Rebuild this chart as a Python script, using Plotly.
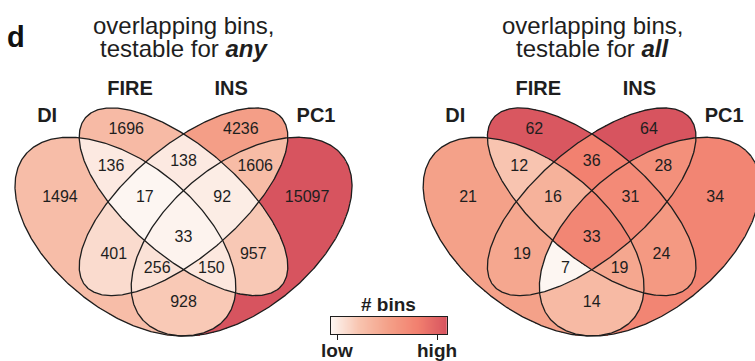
import numpy as np
import plotly.graph_objects as go

# ---------------- data ----------------
SETS = ["DI", "FIRE", "INS", "PC1"]
REGIONS = ["DI", "FIRE", "INS", "PC1",
           "DI&FIRE", "FIRE&INS", "INS&PC1", "DI&INS", "FIRE&PC1", "DI&PC1",
           "DI&FIRE&INS", "FIRE&INS&PC1", "DI&INS&PC1", "DI&FIRE&PC1",
           "DI&FIRE&INS&PC1"]
BINS_ANY = [1494, 1696, 4236, 15097, 136, 138, 1606, 401, 957, 928, 17, 92, 256, 150, 33]
BINS_ALL = [21, 62, 64, 34, 12, 36, 28, 19, 24, 14, 16, 31, 7, 19, 33]
PANEL_KEYS = ["any", "all"]
COLORBAR_TITLE = "# bins"
COLORBAR_TICKS = ["low", "high"]

# ---------------- geometry / style ----------------
ELLIPSES = {  # cx, cy, a, b, angle(deg)
    "DI": (0.35, 0.47, 0.35, 0.20, -45),
    "FIRE": (0.50, 0.57, 0.35, 0.15, -45),
    "INS": (0.50, 0.57, 0.35, 0.15, 45),
    "PC1": (0.65, 0.47, 0.35, 0.20, 45),
}
LABEL_POS = {
    "DI": (0.181, 0.581), "FIRE": (0.352, 0.776), "INS": (0.648, 0.776), "PC1": (0.819, 0.581),
    "DI&FIRE": (0.313, 0.669), "FIRE&INS": (0.5, 0.684), "INS&PC1": (0.685, 0.669),
    "DI&INS": (0.32, 0.417), "FIRE&PC1": (0.68, 0.417), "DI&PC1": (0.5, 0.280),
    "DI&FIRE&INS": (0.40, 0.581), "FIRE&INS&PC1": (0.60, 0.581),
    "DI&INS&PC1": (0.432, 0.377), "DI&FIRE&PC1": (0.572, 0.377),
    "DI&FIRE&INS&PC1": (0.5, 0.466),
}
SET_LABEL_POS = {"DI": (0.148, 0.813), "FIRE": (0.362, 0.891),
                 "INS": (0.623, 0.891), "PC1": (0.842, 0.813)}
COLORSCALE = [[0.0, "#FDF6F2"], [0.25, "#F8C3AE"], [0.5, "#F4A088"],
              [0.75, "#F2806F"], [1.0, "#D7545F"]]
CB_TICKVALS = [0.052, 0.914]
FONT = "Liberation Sans, Arial, Helvetica, sans-serif"
TXT = "#1e1e1e"
W, H = 755, 361


def norm_sqrt(v):
    v = np.sqrt(np.asarray(v, float))
    return (v - v.min()) / (v.max() - v.min())


def norm_log(v):
    v = np.log(np.asarray(v, float))
    return (v - v.min()) / (v.max() - v.min())


def inside(X, Y, e):
    cx, cy, a, b, ang = e
    th = np.radians(ang)
    dx, dy = X - cx, Y - cy
    u = dx * np.cos(th) + dy * np.sin(th)
    v = -dx * np.sin(th) + dy * np.cos(th)
    return (u / a) ** 2 + (v / b) ** 2 <= 1.0


gx = np.arange(0.05, 0.951, 0.002)
gy = np.arange(0.17, 0.851, 0.002)
GX, GY = np.meshgrid(gx, gy)
MEM = {s: inside(GX, GY, ELLIPSES[s]) for s in SETS}


def region_grid(values):
    z = np.full(GX.shape, np.nan)
    for name, val in zip(REGIONS, values):
        members = set(name.split("&"))
        m = np.ones(GX.shape, bool)
        for s in SETS:
            m &= MEM[s] if s in members else ~MEM[s]
        z[m] = val
    return [[None if np.isnan(c) else round(float(c), 4) for c in row] for row in z]


fig = go.Figure()
panels = [(BINS_ANY, norm_sqrt(BINS_ANY), "x", "y"),
          (BINS_ALL, norm_log(BINS_ALL), "x2", "y2")]
for i, (counts, normed, xa, ya) in enumerate(panels):
    fig.add_trace(go.Heatmap(
        x=gx, y=gy, z=region_grid(normed), xaxis=xa, yaxis=ya,
        colorscale=COLORSCALE, zmin=0, zmax=1, zsmooth=False,
        hoverinfo="skip", showscale=False))
    t = np.linspace(0, 2 * np.pi, 500)
    for s in SETS:
        cx, cy, a, b, ang = ELLIPSES[s]
        th = np.radians(ang)
        ex = cx + a * np.cos(t) * np.cos(th) - b * np.sin(t) * np.sin(th)
        ey = cy + a * np.cos(t) * np.sin(th) + b * np.sin(t) * np.cos(th)
        fig.add_trace(go.Scatter(x=ex, y=ey, mode="lines", xaxis=xa, yaxis=ya,
                                 line=dict(color=TXT, width=1.3),
                                 hoverinfo="skip", showlegend=False))
    fig.add_trace(go.Scatter(
        x=[LABEL_POS[r][0] for r in REGIONS], y=[LABEL_POS[r][1] for r in REGIONS],
        text=[str(c) for c in counts], mode="text", xaxis=xa, yaxis=ya,
        textfont=dict(size=16, color=TXT, family=FONT),
        hoverinfo="skip", showlegend=False, cliponaxis=False))
    fig.add_trace(go.Scatter(
        x=[SET_LABEL_POS[s][0] for s in SETS], y=[SET_LABEL_POS[s][1] for s in SETS],
        text=["<b>%s</b>" % s for s in SETS], mode="text", xaxis=xa, yaxis=ya,
        textfont=dict(size=20, color=TXT, family=FONT),
        hoverinfo="skip", showlegend=False, cliponaxis=False))

# colour key drawn on its own small axis
cb = np.linspace(0, 1, 240)
fig.add_trace(go.Heatmap(x=cb, y=[0.5], z=[cb], xaxis="x3", yaxis="y3",
                         colorscale=COLORSCALE, zmin=0, zmax=1, zsmooth=False,
                         hoverinfo="skip", showscale=False))

annotations = []
for cx, key in zip([183.5, 592.0], PANEL_KEYS):
    annotations.append(dict(x=cx / W, y=1 - 25 / H, xref="paper", yref="paper",
                            text="overlapping bins,", showarrow=False,
                            xanchor="center", yanchor="middle",
                            font=dict(size=24, color=TXT, family=FONT)))
    annotations.append(dict(x=cx / W, y=1 - 48 / H, xref="paper", yref="paper",
                            text="testable for <b><i>%s</i></b>" % key, showarrow=False,
                            xanchor="center", yanchor="middle",
                            font=dict(size=24, color=TXT, family=FONT)))
annotations.append(dict(x=16 / W, y=1 - 37 / H, xref="paper", yref="paper",
                        text="<b>d</b>", showarrow=False, xanchor="center", yanchor="middle",
                        font=dict(size=29, color="#111", family=FONT)))
annotations.append(dict(x=388 / W, y=1 - 304 / H, xref="paper", yref="paper",
                        text="<b>%s</b>" % COLORBAR_TITLE, showarrow=False,
                        xanchor="center", yanchor="middle",
                        font=dict(size=19, color=TXT, family=FONT)))
for tv, tt in zip(CB_TICKVALS, COLORBAR_TICKS):
    annotations.append(dict(x=tv, y=1 - 350 / H, xref="x3", yref="paper",
                            text="<b>%s</b>" % tt, showarrow=False,
                            xanchor="center", yanchor="middle",
                            font=dict(size=19, color=TXT, family=FONT)))

ax = dict(visible=False, showgrid=False, zeroline=False, fixedrange=True, autorange=False)
fig.update_layout(
    width=W, height=H, margin=dict(l=0, r=0, t=0, b=0, autoexpand=False),
    paper_bgcolor="white", plot_bgcolor="rgba(0,0,0,0)", showlegend=False,
    xaxis=dict(ax, domain=[0, 0.5], range=[0.0263, 1.0007]),
    yaxis=dict(ax, domain=[0, 1], range=[0.1132, 1.1488]),
    xaxis2=dict(ax, domain=[0.5, 1], range=[-0.0529, 0.9216], anchor="y2"),
    yaxis2=dict(ax, domain=[0, 1], range=[0.1132, 1.1488], anchor="x2"),
    xaxis3=dict(domain=[331 / W, 447 / W], range=[0, 1], anchor="y3",
                showgrid=False, zeroline=False, fixedrange=True, autorange=False,
                showline=True, mirror=True, linecolor=TXT, linewidth=1.2,
                ticks="outside", ticklen=5, tickcolor=TXT, tickwidth=1.2,
                tickmode="array", tickvals=CB_TICKVALS, showticklabels=False),
    yaxis3=dict(domain=[1 - 334 / H, 1 - 317 / H], range=[0, 1], anchor="x3",
                showgrid=False, zeroline=False, fixedrange=True, autorange=False,
                showline=True, mirror=True, linecolor=TXT, linewidth=1.2,
                ticks="", showticklabels=False),
    annotations=annotations,
)
fig.write_html("out.html")
